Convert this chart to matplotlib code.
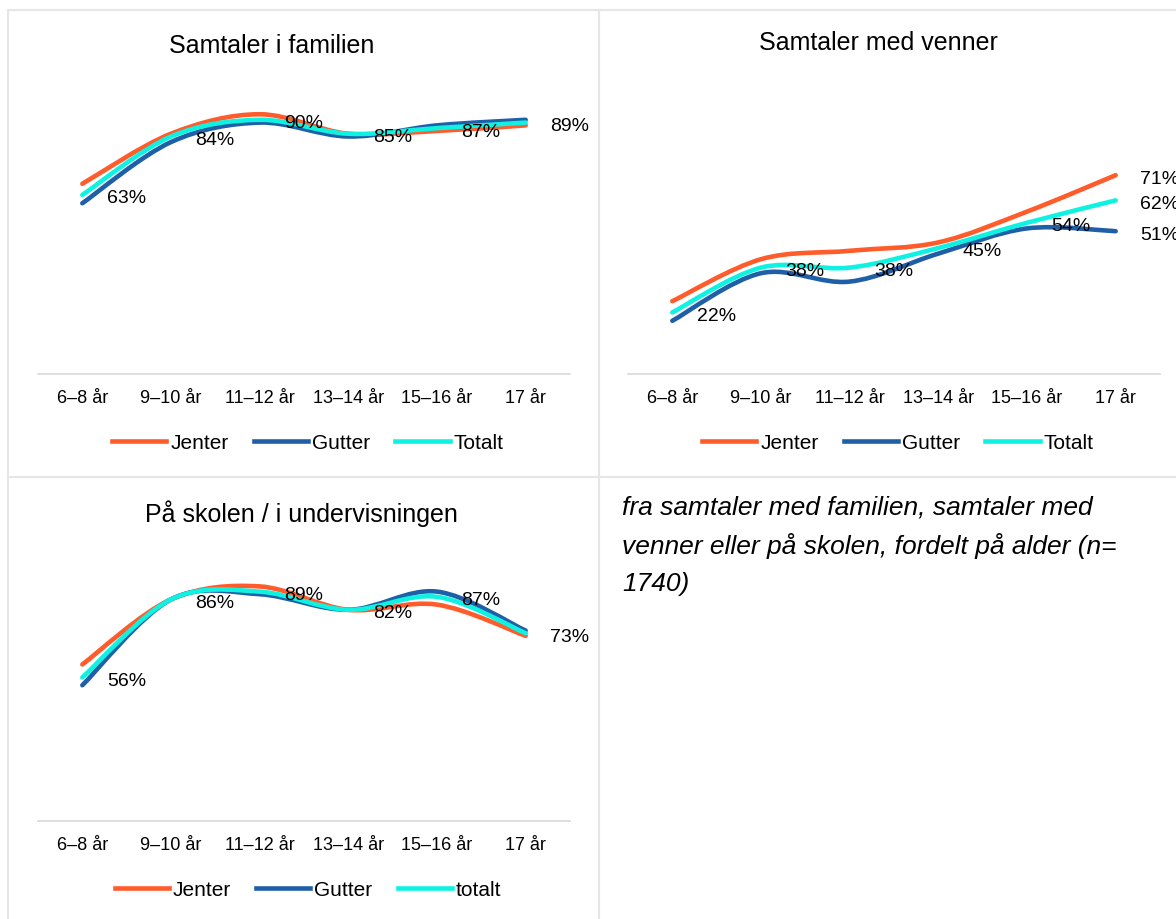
import matplotlib
matplotlib.use("Agg")
import matplotlib.pyplot as plt
from matplotlib.path import Path
from matplotlib.patches import PathPatch
from matplotlib.lines import Line2D

plt.rcParams['font.family'] = ['Liberation Sans', 'DejaVu Sans']

# data
kategorier = ['6–8 år', '9–10 år', '11–12 år', '13–14 år', '15–16 år', '17 år']

familie_jenter = [67, 85, 92, 85, 86, 88]
familie_gutter = [60, 82, 89, 84, 88, 90]
familie_totalt = [63, 84, 90, 85, 87, 89]

venner_jenter = [26, 41, 44, 47, 58, 71]
venner_gutter = [19, 36, 33, 43, 52, 51]
venner_totalt = [22, 38, 38, 45, 54, 62]

skole_jenter = [61, 86, 91, 82, 84, 72]
skole_gutter = [53, 86, 88, 82, 89, 74]
skole_totalt = [56, 86, 89, 82, 87, 73]

titler = ['Samtaler i familien', 'Samtaler med venner', 'På skolen / i undervisningen']
tekst_linjer = ['fra samtaler med familien, samtaler med',
                'venner eller på skolen, fordelt på alder (n=',
                '1740)']

JENTER = '#FF5B2B'
GUTTER = '#1F5FA8'
TOTALT = '#0FF2E2'
GRID = '#d9d9d9'

W, H = 1176, 920
fig = plt.figure(figsize=(W / 100, H / 100), dpi=100)


def px_axes(x0, x1, ybot, ytop):
    return fig.add_axes([x0 / W, (H - ybot) / H, (x1 - x0) / W, (ybot - ytop) / H])


def smooth_path(xs, ys):
    # excel-style smoothed line as cubic bezier segments
    pts = list(zip(xs, ys))
    n = len(pts)
    verts = [pts[0]]
    codes = [Path.MOVETO]
    for i in range(n - 1):
        p0 = pts[i - 1] if i > 0 else pts[i]
        p1 = pts[i]
        p2 = pts[i + 1]
        p3 = pts[i + 2] if i + 2 < n else pts[i + 1]
        c1 = (p1[0] + (p2[0] - p0[0]) / 6, p1[1] + (p2[1] - p0[1]) / 6)
        c2 = (p2[0] - (p3[0] - p1[0]) / 6, p2[1] - (p3[1] - p1[1]) / 6)
        verts += [c1, c2, p2]
        codes += [Path.CURVE4] * 3
    return Path(verts, codes)


def panel(ax, serier, navn, ylim, etiketter, legend_xy):
    xs = list(range(len(kategorier)))
    for verdier, farge in zip(serier, [JENTER, GUTTER, TOTALT]):
        ax.add_patch(PathPatch(smooth_path(xs, verdier), fill=False, ec=farge,
                               lw=3.3, capstyle='round', zorder=3))
    for (i, v) in etiketter:
        ax.annotate(f'{v}%', (i, v), xytext=(44, -3), textcoords='offset pixels',
                    ha='center', va='center', fontsize=14, zorder=5)
    ax.set_xlim(-0.5, len(kategorier) - 0.5)
    ax.set_ylim(*ylim)
    ax.set_xticks(xs)
    ax.set_xticklabels(kategorier, fontsize=13)
    ax.tick_params(length=0, pad=11)
    ax.set_yticks([])
    for s in ['top', 'left', 'right']:
        ax.spines[s].set_visible(False)
    ax.spines['bottom'].set_color(GRID)
    ax.spines['bottom'].set_linewidth(1.2)
    ax.patch.set_alpha(0)
    handles = [Line2D([], [], color=c, lw=3.3) for c in [JENTER, GUTTER, TOTALT]]
    ax.legend(handles, navn, loc='center', bbox_to_anchor=(legend_xy[0] / W, 1 - legend_xy[1] / H),
              bbox_transform=fig.transFigure, ncol=3, frameon=False, fontsize=15,
              handlelength=2.6, handletextpad=0.2, columnspacing=1.2)


ax1 = px_axes(38, 570, 375, 93)
panel(ax1, [familie_jenter, familie_gutter, familie_totalt], ['Jenter', 'Gutter', 'Totalt'],
      (-1.4, 100), list(enumerate(familie_totalt)), (308, 444))

ax2 = px_axes(628, 1160, 375, 95)
etik2 = list(enumerate(venner_totalt)) + [(5, venner_jenter[5]), (5, venner_gutter[5])]
panel(ax2, [venner_jenter, venner_gutter, venner_totalt], ['Jenter', 'Gutter', 'Totalt'],
      (0, 100), etik2, (898, 444))

ax3 = px_axes(38, 570, 822, 564)
panel(ax3, [skole_jenter, skole_gutter, skole_totalt], ['Jenter', 'Gutter', 'totalt'],
      (0.8, 100), list(enumerate(skole_totalt)), (308, 891))

# titles
fig.text(272 / W, 1 - 46 / H, titler[0], ha='center', va='center', fontsize=18)
fig.text(878 / W, 1 - 43 / H, titler[1], ha='center', va='center', fontsize=18)
fig.text(301 / W, 1 - 514 / H, titler[2], ha='center', va='center', fontsize=18)

# italic note, one line at a time for even spacing
for k, linje in enumerate(tekst_linjer):
    fig.text(622 / W, 1 - (505 + 38.5 * k) / H, linje, ha='left', va='center_baseline',
             fontsize=19, style='italic')

# panel frames
for (xa, ya, xb, yb) in [(8, 11, W, 11), (8, 11, 8, H), (599, 11, 599, H), (8, 478, W, 478)]:
    fig.add_artist(Line2D([xa / W, xb / W], [1 - ya / H, 1 - yb / H], color='#e6e6e6', lw=1.5))

fig.savefig('out.png', dpi=100)
